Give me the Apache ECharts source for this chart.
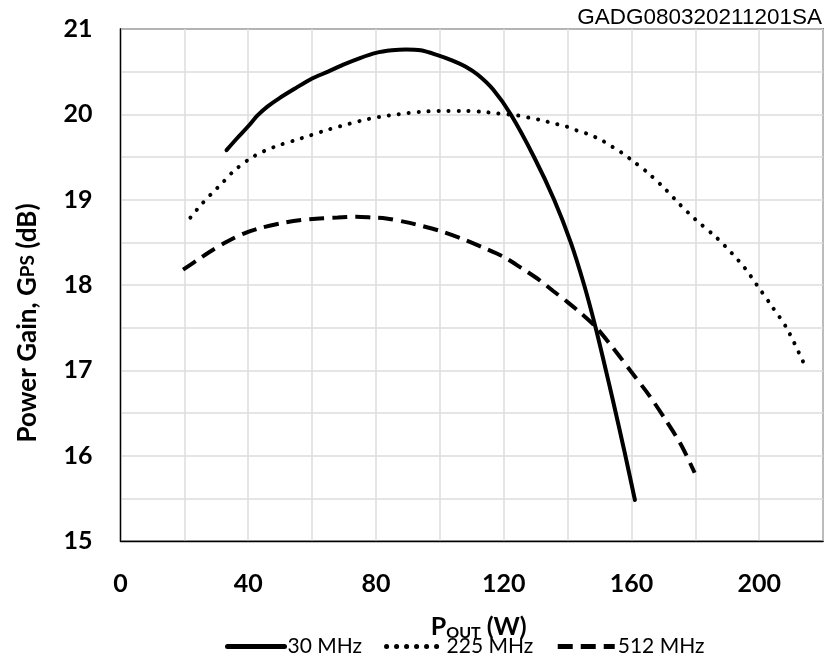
<!DOCTYPE html>
<html>
<head>
<meta charset="utf-8">
<script src="https://cdn.jsdelivr.net/npm/echarts@6/dist/echarts.min.js"></script>
<style>
html,body{margin:0;padding:0;background:#fff;}
#chart{width:826px;height:662px;}
</style>
</head>
<body>
<div id="chart"></div>
<script>
// Data
const xTicks = [0, 40, 80, 120, 160, 200];
const yTicks = [15, 16, 17, 18, 19, 20, 21];
const seriesNames = ['30 MHz', '225 MHz', '512 MHz'];

const pout30 = [33.2, 36.5, 40, 43, 46, 49.8, 55, 60, 65, 69.6, 75, 80, 85, 89.4, 94, 98.8, 104, 108, 112, 116.7, 122.2, 129.5, 135.8, 141, 145.2, 148.8, 151.5, 154.2, 157.7, 161.1];
const gain30 = [19.58, 19.72, 19.86, 19.99, 20.09, 20.19, 20.31, 20.42, 20.5, 20.58, 20.66, 20.72, 20.75, 20.76, 20.75, 20.7, 20.63, 20.56, 20.46, 20.29, 20.0, 19.5, 19.0, 18.5, 18.0, 17.5, 17.08, 16.65, 16.07, 15.48];

const pout225 = [21.9, 25, 28.5, 32, 35.3, 40.5, 45, 49.8, 55, 59.2, 65, 71.7, 77, 81.1, 87, 94.1, 100, 107.1, 113.4, 118, 123.8, 128, 132, 136, 139.4, 143, 147, 150.5, 154, 157, 160.2, 165, 170.7, 175, 180, 186.8, 191.5, 195.5, 199.3, 204, 208.7, 214.4];
const gain225 = [18.79, 18.93, 19.07, 19.2, 19.33, 19.48, 19.57, 19.64, 19.7, 19.75, 19.82, 19.89, 19.94, 19.97, 20.0, 20.03, 20.04, 20.04, 20.03, 20.01, 19.99, 19.96, 19.93, 19.89, 19.86, 19.81, 19.76, 19.7, 19.62, 19.55, 19.46, 19.32, 19.12, 18.95, 18.77, 18.55, 18.37, 18.2, 18.0, 17.75, 17.49, 17.05];

const pout512 = [19.6, 24, 28, 33, 38.4, 44, 49.8, 56, 62.3, 68, 73.8, 79, 83.2, 89, 94.6, 100.4, 107.1, 113.5, 120, 125.5, 131.1, 135.5, 140, 144.5, 148.8, 154.5, 160, 165.5, 170.7, 175.5, 179.8];
const gain512 = [18.18, 18.29, 18.39, 18.5, 18.6, 18.67, 18.72, 18.76, 18.78, 18.79, 18.8, 18.79, 18.78, 18.74, 18.69, 18.63, 18.54, 18.44, 18.33, 18.2, 18.06, 17.93, 17.8, 17.66, 17.51, 17.25, 16.98, 16.71, 16.42, 16.13, 15.8];

const zip = (xs, ys) => xs.map((x, i) => [x, ys[i]]);

const chart = echarts.init(document.getElementById('chart'), null, {renderer: 'canvas'});
const FONT = 'Lato';
chart.setOption({
  animation: false,
  backgroundColor: '#fff',
  grid: {left: 120.5, right: 1.5, top: 29, bottom: 121, show: true, borderColor: '#000', borderWidth: 1.3, backgroundColor: 'transparent'},
  graphic: [{
    type: 'text', right: 4, top: 6,
    style: {text: 'GADG080320211201SA', font: '22.5px "Liberation Sans"', fill: '#000'}
  }],
  legend: {
    bottom: 0, left: 220,
    itemWidth: 57, itemHeight: 14, itemGap: 22,
    itemStyle: {opacity: 0},
    lineStyle: {width: 5},
    textStyle: {fontFamily: FONT, fontSize: 21, color: '#000', padding: [0, 0, 0, -2]},
    data: seriesNames
  },
  xAxis: {
    type: 'value', min: 0, max: 220, interval: 20,
    name: '{p|P}{s|OUT}{p| (W)}',
    nameLocation: 'middle', nameGap: 72,
    nameTextStyle: {
      padding: [0, 0, 0, 14],
      rich: {
        p: {fontFamily: FONT, fontWeight: 'bold', fontSize: 25, color: '#000'},
        s: {fontFamily: FONT, fontWeight: 'bold', fontSize: 16, color: '#000', verticalAlign: 'bottom', padding: [12, 0, 0, 0]}
      }
    },
    axisLine: {show: true, lineStyle: {color: '#000', width: 1.3}},
    axisTick: {show: false},
    splitLine: {show: true, lineStyle: {color: '#dcdcdc', width: 1.5}},
    axisLabel: {
      margin: 30, fontFamily: FONT, fontWeight: 'bold', fontSize: 25, color: '#000',
      formatter: v => xTicks.includes(v) ? String(v) : ''
    }
  },
  yAxis: {
    type: 'value', min: 15, max: 21, interval: 0.5,
    name: '{b|Power Gain, G}{s|PS}{b| (dB)}',
    nameLocation: 'middle', nameGap: 80, nameRotate: 90,
    nameTextStyle: {
      padding: [0, 76, 0, 0],
      rich: {
        b: {fontFamily: FONT, fontWeight: 'bold', fontSize: 26, color: '#000'},
        s: {fontFamily: FONT, fontWeight: 'bold', fontSize: 19, color: '#000'}
      }
    },
    axisLine: {show: true, lineStyle: {color: '#000', width: 1.3}},
    axisTick: {show: false},
    splitLine: {show: true, lineStyle: {color: '#dcdcdc', width: 1.5}},
    axisLabel: {
      margin: 28, fontFamily: FONT, fontWeight: 'bold', fontSize: 25, color: '#000',
      formatter: v => yTicks.includes(v) ? String(v) : ''
    }
  },
  series: [
    {name: seriesNames[0], type: 'line', smooth: 0.3, symbol: 'none', data: zip(pout30, gain30),
     lineStyle: {color: '#000', width: 4, cap: 'round'}, itemStyle: {color: '#000'}},
    {name: seriesNames[1], type: 'line', smooth: 0.3, symbol: 'none', data: zip(pout225, gain225),
     lineStyle: {color: '#000', width: 4, type: [0.1, 9.9], cap: 'round'}, itemStyle: {color: '#000'}},
    {name: seriesNames[2], type: 'line', smooth: 0.3, symbol: 'none', data: zip(pout512, gain512),
     lineStyle: {color: '#000', width: 4, type: [15, 8], cap: 'butt'}, itemStyle: {color: '#000'}}
  ]
});
</script>
</body>
</html>
